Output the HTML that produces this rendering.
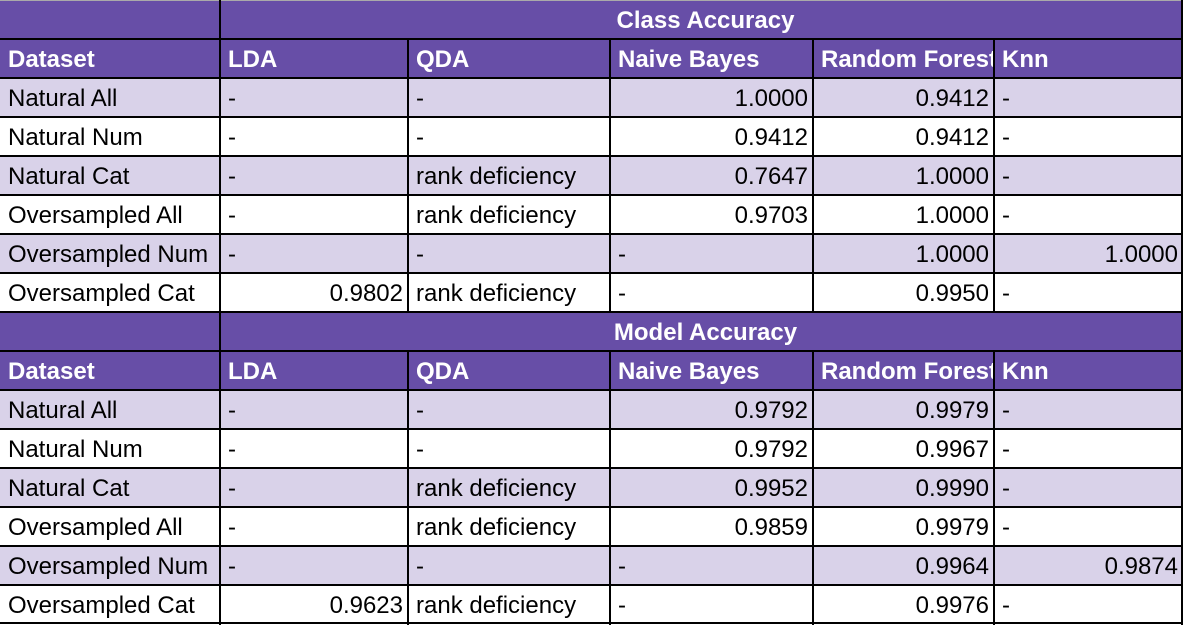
<!DOCTYPE html>
<html><head><meta charset="utf-8">
<style>
html,body{margin:0;padding:0;background:#fff;}
#wrap{position:relative;width:1183px;height:625px;overflow:hidden;font-family:"Liberation Sans",Arial,sans-serif;}
.c{position:absolute;box-sizing:border-box;font-size:24px;line-height:39px;padding:1px 7px 0 8px;white-space:nowrap;overflow:hidden;color:#000;}
.h{background:#674ea7;color:#fff;font-weight:bold;padding-right:0;}
.t{text-align:center;}
.r{text-align:right;padding-right:5px;}
.l{background:#d9d2e9;}
.hl{position:absolute;left:0;width:1183px;height:2px;background:#000;}
.vl{position:absolute;width:2px;background:#000;}
</style></head>
<body>
<div id="wrap"></div>
<script>
const colX=[0,220,408,610,813,994,1183];
const headers=["Dataset","LDA","QDA","Naive Bayes","Random Forest","Knn"];
const datasets=["Natural All","Natural Num","Natural Cat","Oversampled All","Oversampled Num","Oversampled Cat"];
const classAcc=[
["-","-","1.0000","0.9412","-"],
["-","-","0.9412","0.9412","-"],
["-","rank deficiency","0.7647","1.0000","-"],
["-","rank deficiency","0.9703","1.0000","-"],
["-","-","-","1.0000","1.0000"],
["0.9802","rank deficiency","-","0.9950","-"]];
const modelAcc=[
["-","-","0.9792","0.9979","-"],
["-","-","0.9792","0.9967","-"],
["-","rank deficiency","0.9952","0.9990","-"],
["-","rank deficiency","0.9859","0.9979","-"],
["-","-","-","0.9964","0.9874"],
["0.9623","rank deficiency","-","0.9976","-"]];
const W=document.getElementById('wrap');
const RH=39;
function cell(x,y,w,txt,cls){
  const d=document.createElement('div');
  d.className='c '+cls;
  d.style.left=x+'px';d.style.top=y+'px';d.style.width=w+'px';d.style.height=RH+'px';
  d.textContent=txt;
  W.appendChild(d);return d;
}
function block(y0,title,data,key){
  let d=cell(0,y0,220,'','h');
  
  
  d=cell(220,y0,963,title,'h t');
  
  
  for(let j=0;j<6;j++){
    d=cell(colX[j],y0+RH,colX[j+1]-colX[j],headers[j],'h');
    
    
  }
  for(let i=0;i<6;i++){
    const y=y0+RH*(i+2);const lc=(i%2==0)?' l':'';
    d=cell(0,y,220,datasets[i],lc);
    
    
    for(let j=0;j<5;j++){
      const v=data[i][j];
      const num=/^[0-9]/.test(v);
      d=cell(colX[j+1],y,colX[j+2]-colX[j+1],v,(num?'r':'')+lc);
      
      
    }
  }
}
block(0,'Class Accuracy',classAcc,'class');
block(312,'Model Accuracy',modelAcc,'model');
for(let k=1;k<=16;k++){
  const l=document.createElement('div');l.className='hl';
  l.style.top=(k*RH-1)+'px';
  if(k==16)l.style.top='622px';
  
  
  W.appendChild(l);
}
const topLine=document.createElement('div');topLine.className='hl';topLine.style.top='0px';topLine.style.height='1px';topLine.style.background='#aaa';


W.appendChild(topLine);
for(const b of [0,312]){
  for(let j=1;j<7;j++){
    const x=j==6?1181:colX[j]-1;
    const start=(j==1||j==6)?b:b+RH;
    const v=document.createElement('div');v.className='vl';
    v.style.left=x+'px';v.style.top=start+'px';v.style.height=(b+8*RH-start+1)+'px';
    
    
    W.appendChild(v);
  }
}
</script>
</body></html>
